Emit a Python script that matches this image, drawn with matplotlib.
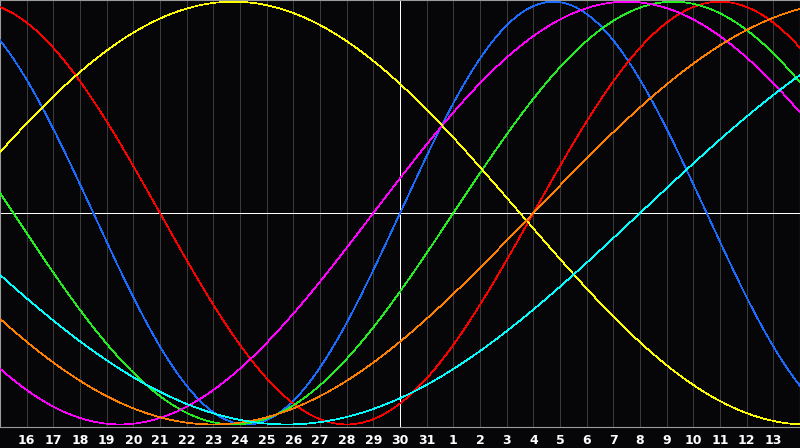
import numpy as np
import matplotlib
matplotlib.use("Agg")
import matplotlib.pyplot as plt

# ---- data ----
# biorhythm cycles (period in days) and their colours
cycle_periods = [23, 28, 33, 38, 43, 48, 53]
cycle_colors = ["#1a6cff", "#ff0000", "#22ee22", "#ff00ff", "#ffff00", "#ff8000", "#00ffff"]
# days lived on the centre date (day 30)
days_alive_at_center = 31579
# visible window: days relative to the centre date
day_offsets = list(range(-15, 16))
# day-of-month labels for offsets -14 .. 14
day_labels = [str(d) for d in range(16, 32)] + [str(d) for d in range(1, 14)]
label_offsets = list(range(-14, 15))

W, H, DPI = 800, 448, 100
BG = "#060609"

fig = plt.figure(figsize=(W / DPI, H / DPI), dpi=DPI, facecolor=BG)
ax_bottom_px = 427
ax = fig.add_axes([0, (H - ax_bottom_px) / H, 1, ax_bottom_px / H])
ax.set_facecolor(BG)

ax.set_xlim(day_offsets[0], day_offsets[-1])
ax.set_ylim(-1.012, 1.008)

# day grid lines
for d in day_offsets:
    ax.axvline(d, color="#3a3a3a", lw=0.5, antialiased=False, zorder=1)
# centre cross
ax.axvline(0, color="#ffffff", lw=0.5, antialiased=False, zorder=2)
ax.axhline(0, color="#ffffff", lw=0.5, antialiased=False, zorder=2)

t = np.linspace(day_offsets[0], day_offsets[-1], 1600)
for p, c in zip(cycle_periods, cycle_colors):
    v = np.sin(2 * np.pi * (days_alive_at_center + t) / p)
    ax.plot(t, v, color=c, lw=0.5, antialiased=False, zorder=3)

ax.set_xticks([])
ax.set_yticks([])
for s in ax.spines.values():
    s.set_color("#9a9a9a")
    s.set_linewidth(0.8)

for off, lab in zip(label_offsets, day_labels):
    ax.text(off, -0.017, lab, transform=ax.get_xaxis_transform(), ha="center", va="top",
            color="white", fontsize=9, fontweight="bold", family="DejaVu Sans")

fig.savefig("out.png", dpi=DPI, facecolor=BG)
